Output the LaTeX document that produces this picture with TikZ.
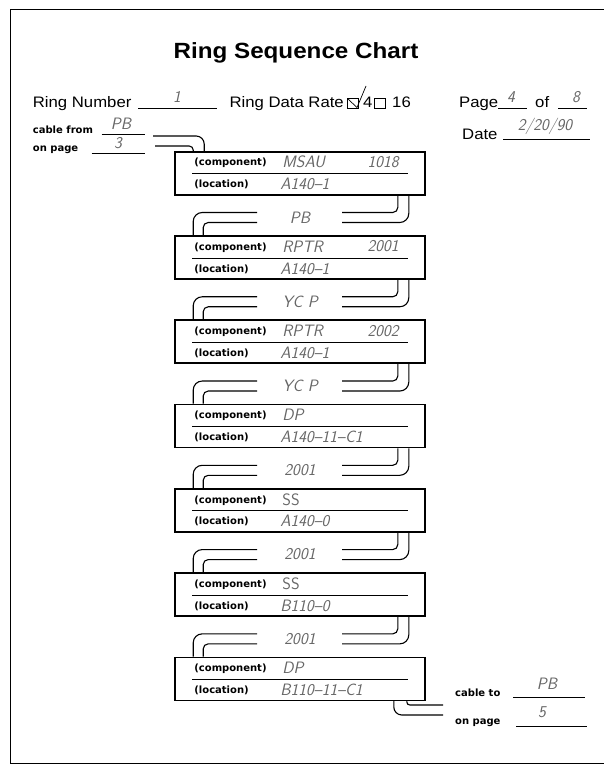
\documentclass[tikz,border=0pt]{standalone}
\usepackage{fontspec}
\setmainfont{Liberation Sans}[FakeStretch=1.1]
\newfontfamily\tagfont{DejaVu Sans}
\newcommand{\handfont}{\fontsize{16.5}{16.5}\sffamily\slshape\selectfont}
\usetikzlibrary{calc}
\tikzset{
  ringbox/.style={draw, line width=1.6pt, minimum width=250pt, minimum height=43pt, inner sep=0pt},
  cable/.style={line width=1.1pt},
  blank/.style={line width=0.7pt},
  formtext/.style={font=\fontsize{15.2}{18}\selectfont, inner sep=0pt},
  tag/.style={font=\tagfont\bfseries\fontsize{10}{12}\selectfont, inner sep=0pt},
  hand/.style={font=\handfont, text=black!60, inner sep=0pt}
}
\begin{document}
\begin{tikzpicture}[x=1pt, y=-1pt]
  \useasboundingbox (0,0) rectangle (603,768);
  \draw[line width=0.9pt] (606,9) -- (10,9) -- (10,763) -- (606,763);
  \node[font=\bfseries\fontsize{22}{26}\selectfont, anchor=base] (title) at (296,59) {Ring Sequence Chart};

  \node[formtext, anchor=base west] (ringno) at (32.7,107) {Ring Number};
  \draw[blank] (138,108) -- (217,108); \node[hand] (ringnoval) at (177,97) {1};
  \node[formtext, anchor=base west] (rate) at (229.3,107) {Ring Data Rate};
  \draw[blank] (347,98) rectangle (358,108); \draw[blank] (348,99) -- (357,107.5) -- (366,86);
  \node[formtext, anchor=base west] (rate4) at (363,107) {4};
  \draw[blank] (374,98) rectangle (385,108);
  \node[formtext, anchor=base west] (rate16) at (392,107) {16};
  \node[formtext, anchor=base west] (page) at (459,107) {Page};
  \draw[blank] (498,108) -- (527,108); \node[hand] (pageval) at (511,97) {4};
  \node[formtext, anchor=base west] (of) at (535,107) {of};
  \draw[blank] (558,108) -- (587,108); \node[hand] (ofval) at (576,97) {8};
  \node[formtext, anchor=base west] (date) at (462,139) {Date};
  \draw[blank] (503,139) -- (590,139); \node[hand] (dateval) at (545,126) {2/20/90};

  \node[tag, anchor=base west] (cablefrom) at (32.7,133) {cable from};
  \draw[blank] (101.7,134.3) -- (145,134.3); \node[hand] (fromval) at (121,124) {PB};
  \node[tag, anchor=base west] (onpage1) at (32.7,151) {on page};
  \draw[blank] (91.7,153) -- (145,153); \node[hand] (onpageval1) at (118,143) {3};

  \foreach \i/\comp/\loc in {1/MSAU/A140–1, 2/RPTR/A140–1, 3/RPTR/A140–1, 4/DP/A140–11–C1,
      5/{\upshape SS}/A140–0, 6/{\upshape SS}/B110–0, 7/DP/B110–11–C1} {
    \pgfmathsetmacro\cy{173.2+84.27*(\i-1)}
    \node[ringbox] (box\i) at (300,\cy) {};
    \draw[blank] ($(box\i.west)+(18,0.5)$) -- ($(box\i.east)+(-18,0.5)$);
    \node[tag, anchor=west] (comp\i) at ($(box\i.west)+(20,-10)$) {(component)};
    \node[tag, anchor=west] (loc\i) at ($(box\i.west)+(20,11.5)$) {(location)};
    \node[hand, anchor=west] (compval\i) at ($(box\i.west)+(108,-11)$) {\comp};
    \node[hand, anchor=west] (locval\i) at ($(box\i.west)+(106,11)$) {\loc};
  }
  \foreach \i/\num in {1/1018, 2/2001, 3/2002}
    \node[hand, anchor=east] (num\i) at ($(box\i.east)+(-27,-11)$) {\num};

  \coordinate (from1) at (153,136);
  \coordinate (from2) at (155,146);
  \draw[cable, rounded corners=8pt] (from1) -| ($(box1.north west)+(30,0)$);
  \draw[cable, rounded corners=4pt] (from2) -| ($(box1.north west)+(19,0)$);

  \foreach \i/\j/\cab in {1/2/PB, 2/3/YC P, 3/4/YC P, 4/5/2001, 5/6/2001, 6/7/2001} {
    \draw[cable, rounded corners=9pt] ($(box\i.south east)+(-17,0)$) |- ($(box\i.south)+(42,27)$);
    \draw[cable, rounded corners=5pt] ($(box\i.south east)+(-28,0)$) |- ($(box\i.south)+(42,17)$);
    \node[hand] (cab\i) at ($(box\i.south)+(0,22)$) {\cab};
    \draw[cable, rounded corners=9pt] ($(box\i.south)+(-43,17)$) -| ($(box\j.north west)+(19,0)$);
    \draw[cable, rounded corners=5pt] ($(box\i.south)+(-43,27)$) -| ($(box\j.north west)+(29,0)$);
  }

  \coordinate (to1) at (443,705);
  \coordinate (to2) at (443,715);
  \draw[cable, rounded corners=3pt] ($(box7.south east)+(-19,0)$) |- (to1);
  \draw[cable, rounded corners=8pt] ($(box7.south east)+(-32,0)$) |- (to2);
  \node[tag, anchor=base west] (cableto) at (455,696) {cable to};
  \draw[blank] (513,697.3) -- (585,697.3); \node[hand] (toval) at (547,684) {PB};
  \node[tag, anchor=base west] (onpage2) at (455,724) {on page};
  \draw[blank] (516,726) -- (587,726); \node[hand] (onpageval2) at (542,712) {5};
\end{tikzpicture}
\end{document}
